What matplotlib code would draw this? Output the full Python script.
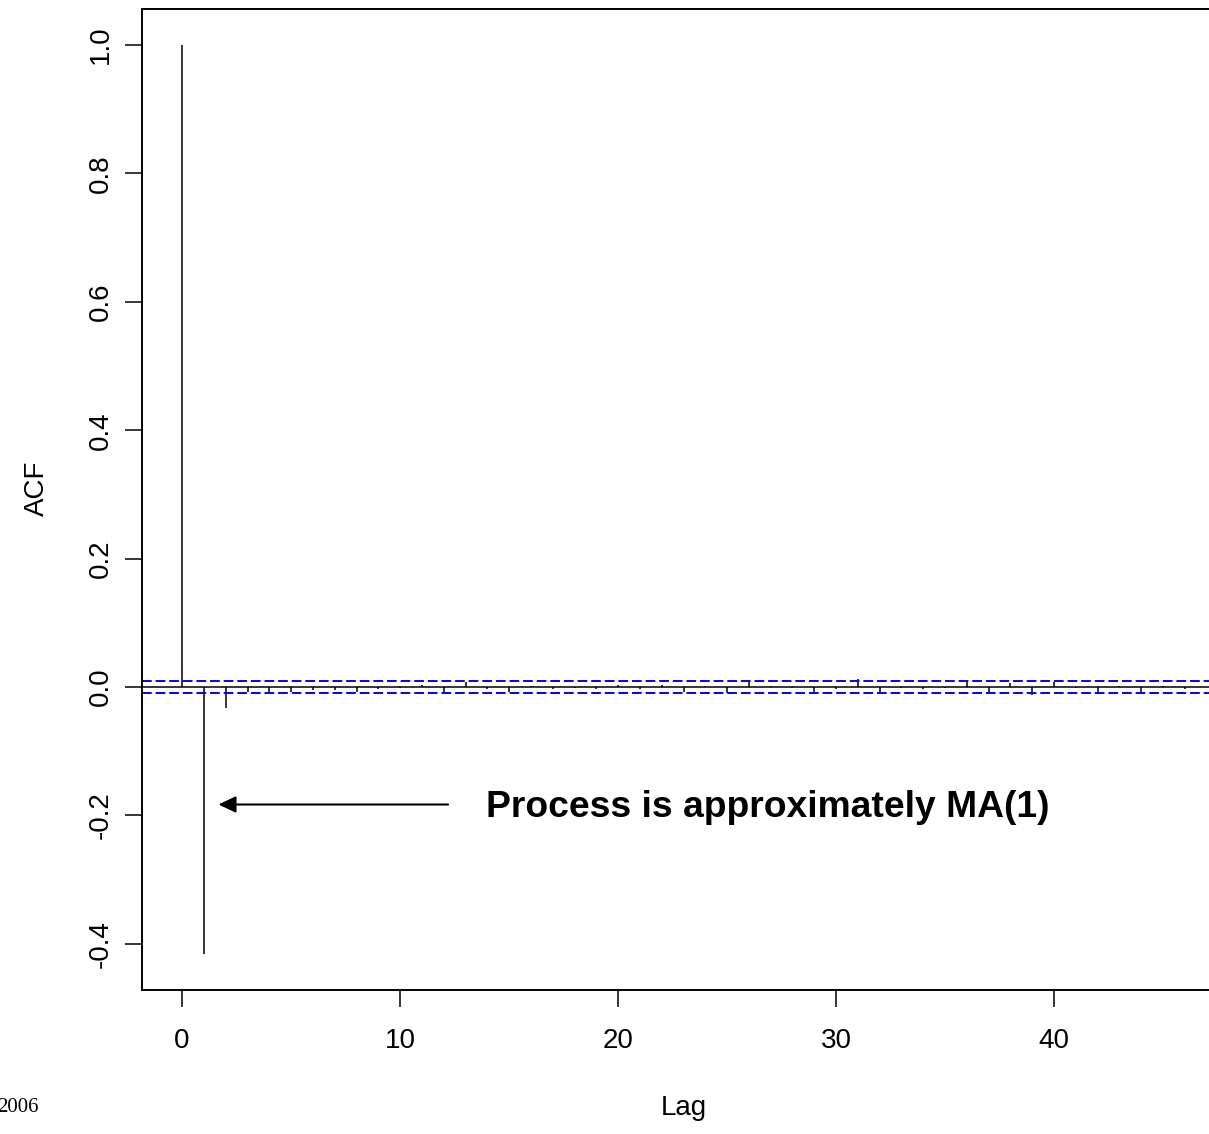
import matplotlib
matplotlib.use("Agg")
import matplotlib.pyplot as plt

plt.rcParams['font.family'] = ['Liberation Sans', 'DejaVu Sans']

lags = list(range(0, 47))
acf_values = [1.0, -0.416, -0.032, -0.008, -0.010, -0.008, -0.004, -0.004, -0.008, -0.003,
              -0.002, 0.003, -0.008, 0.008, -0.003, -0.008, 0.002, -0.003, -0.001, -0.003,
              0.003, -0.003, 0.003, -0.008, 0.002, -0.010, 0.008, 0.002, -0.002, -0.008,
              -0.003, 0.012, -0.008, -0.002, -0.003, -0.002, 0.008, -0.008, 0.006, -0.013,
              0.008, -0.001, -0.008, 0.002, -0.008, 0.002, -0.003]
ci_bound = 0.009
x_ticks = [0, 10, 20, 30, 40]
y_ticks = [-0.4, -0.2, 0.0, 0.2, 0.4, 0.6, 0.8, 1.0]
y_tick_labels = ["-0.4", "-0.2", "0.0", "0.2", "0.4", "0.6", "0.8", "1.0"]
annotation = "Process is approximately MA(1)"

W, H = 1209, 1134
fig = plt.figure(figsize=(W / 100, H / 100), dpi=100)
left_px, right_px, top_px, bot_px = 142, 1225, 8.7, 990.4
ax = fig.add_axes([left_px / W, 1 - bot_px / H, (right_px - left_px) / W, (bot_px - top_px) / H])

ax.vlines(lags, 0, acf_values, color='black', linewidth=1.1)
ax.axhline(0, color='black', linewidth=1.1)
for b in (ci_bound, -ci_bound):
    ax.axhline(b, color='blue', linewidth=1.4, linestyle=(0, (5, 2)))

ax.set_xlim(-1.84, 47.84)
ax.set_ylim(-0.4726, 1.0566)

for s in ax.spines.values():
    s.set_linewidth(1.4)

ax.set_xticks(x_ticks)
ax.set_xticklabels([str(t) for t in x_ticks])
ax.set_yticks(y_ticks)
ax.set_yticklabels(y_tick_labels, rotation=90, va='center')
ax.tick_params(axis='both', length=12.2, width=1.1, labelsize=20, direction='out')
ax.tick_params(axis='x', pad=15)
ax.tick_params(axis='y', pad=8)

ax.annotate("", xy=(1.67, -0.183), xytext=(12.2, -0.183),
            arrowprops=dict(arrowstyle='-|>,head_length=1.05,head_width=0.5',
                            color='black', linewidth=1.5, shrinkA=0, shrinkB=0))
ax.text(13.94, -0.202, annotation, fontsize=26.8, fontweight='bold', ha='left', va='baseline')

fig.text(684 / W, 1 - 1108 / H, "Lag", fontsize=20, ha='center', va='center')
fig.text(37 / W, 1 - 488 / H, "ACF", fontsize=20, ha='center', va='center', rotation=90)
fig.text(-3 / W, 1 - 1112 / H, "2006", fontsize=15, ha='left', va='baseline',
         family='Liberation Serif')

fig.savefig("out.png", dpi=100)
